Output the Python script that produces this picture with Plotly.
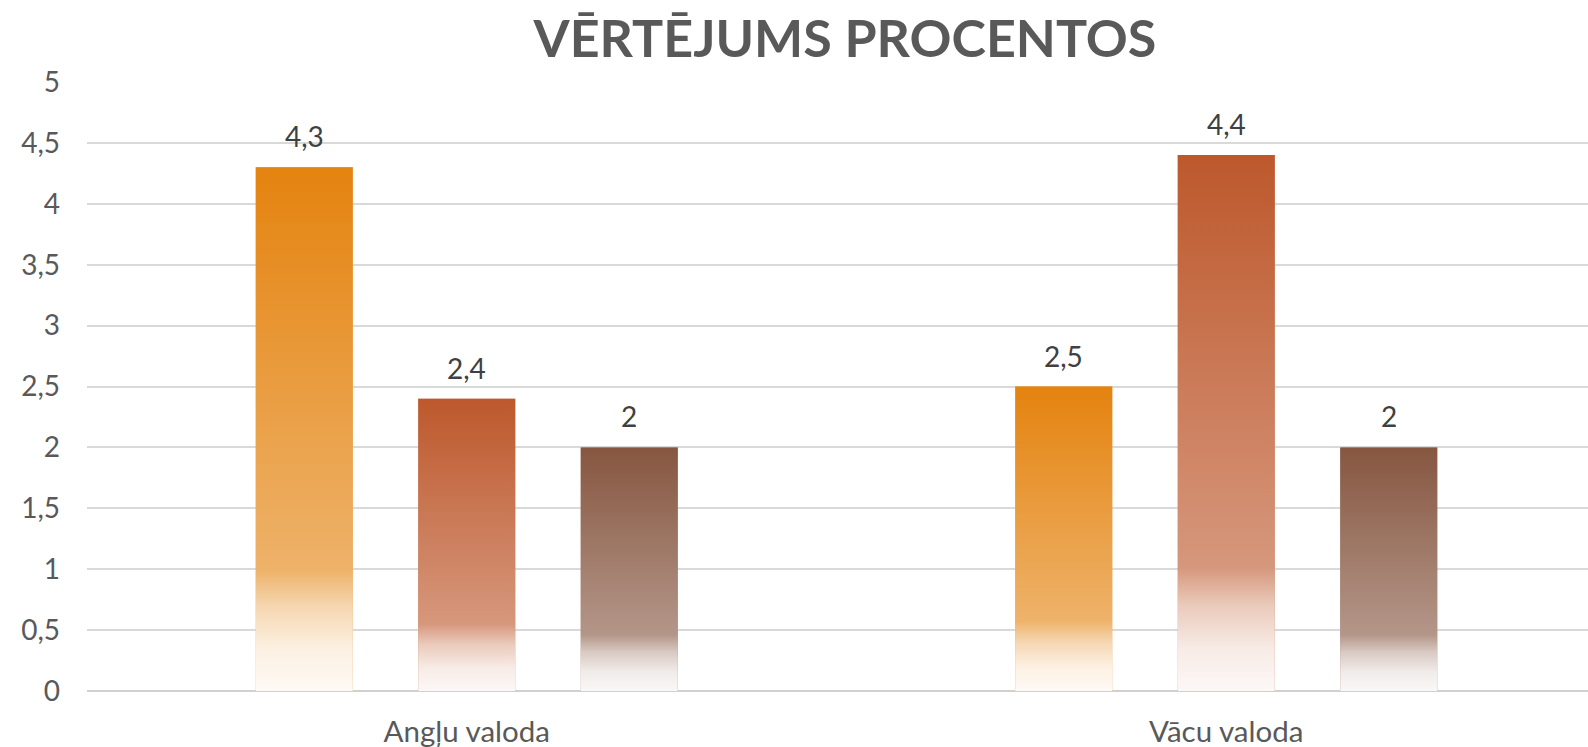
import plotly.graph_objects as go

# ---- data ----
categories = ["Angļu valoda", "Vācu valoda"]
series_names = ["Sērija 1", "Sērija 2", "Sērija 3"]
series_values = [
    [4.3, 2.5],
    [2.4, 4.4],
    [2.0, 2.0],
]
series_colors = ["#E4830F", "#BD582C", "#865640"]
y_ticks = [0, 0.5, 1, 1.5, 2, 2.5, 3, 3.5, 4, 4.5, 5]
title_text = "VĒRTĒJUMS PROCENTOS"

# ---- geometry / style ----
W, H = 1588, 747
ML, MR, MT, MB = 87, 0, 82, 56
PX_PER_CAT = 759.5
plot_w = W - ML - MR
x_range = [-0.5, -0.5 + plot_w / PX_PER_CAT]
slot = 162.5 / PX_PER_CAT
bar_w = 97 / PX_PER_CAT


def hex2rgb(h):
    h = h.lstrip("#")
    return tuple(int(h[i:i + 2], 16) for i in (0, 2, 4))


def tint(h, f):
    r, g, b = hex2rgb(h)
    return "rgb(%d,%d,%d)" % (round(r + (255 - r) * f), round(g + (255 - g) * f), round(b + (255 - b) * f))


def gradient_scale(h):
    return [
        [0.0, tint(h, 0.96)],
        [0.08, tint(h, 0.88)],
        [0.16, tint(h, 0.68)],
        [0.23, tint(h, 0.38)],
        [1.0, tint(h, 0.0)],
    ]


fig = go.Figure()
x_idx = list(range(len(categories)))

for j, (name, vals, col) in enumerate(zip(series_names, series_values, series_colors)):
    off = (j - 1) * slot - bar_w / 2
    fig.add_trace(go.Bar(
        x=x_idx, y=vals, name=name,
        width=bar_w, offset=off,
        marker=dict(color=tint(col, 0.3), line=dict(width=0)),
        showlegend=False,
        hovertemplate="%{y}<extra>" + name + "</extra>",
    ))
    # gradient overlay for each bar (same geometry as the bar)
    for xi, v in zip(x_idx, vals):
        x0 = xi + off
        x1 = x0 + bar_w
        fig.add_trace(go.Scatter(
            x=[x0, x1, x1, x0, x0], y=[0, 0, v, v, 0],
            mode="lines", fill="toself", line=dict(width=0),
            fillgradient=dict(type="vertical", colorscale=gradient_scale(col)),
            hoverinfo="skip", showlegend=False,
        ))
        fig.add_annotation(
            x=xi + (j - 1) * slot, y=v, xref="x", yref="y",
            text=str(v if v % 1 else int(v)).replace(".", ","),
            showarrow=False, yanchor="bottom", yshift=12,
            font=dict(family="Lato", size=28, color="#404040"),
        )

fig.update_layout(
    width=W, height=H,
    margin=dict(l=ML, r=MR, t=MT, b=MB, pad=0),
    paper_bgcolor="white", plot_bgcolor="white",
    barmode="overlay",
    separators=", ",
    title=dict(
        text="<b>" + title_text + "</b>",
        x=845 / W, xanchor="center", xref="container",
        y=1 - 39 / H, yanchor="middle", yref="container",
        font=dict(family="Lato", size=52, color="#595959"),
    ),
    xaxis=dict(
        range=x_range, tickvals=x_idx, ticktext=categories,
        showgrid=False, zeroline=False, showline=False, ticks="",
        ticklabelstandoff=20,
        tickfont=dict(family="Lato", size=29.5, color="#595959"),
        fixedrange=True,
    ),
    yaxis=dict(
        range=[0, 5], tickvals=y_ticks, tickformat="~g",
        showgrid=True, gridcolor="#D9D9D9", gridwidth=1.5,
        zeroline=True, zerolinecolor="#D0D0D0", zerolinewidth=2,
        showline=False, ticks="",
        ticklabelstandoff=26,
        tickfont=dict(family="Lato", size=28, color="#595959"),
        fixedrange=True,
    ),
)

fig.write_html("out.html", post_script="document.body.style.margin='0';",
               config={"displayModeBar": False})
